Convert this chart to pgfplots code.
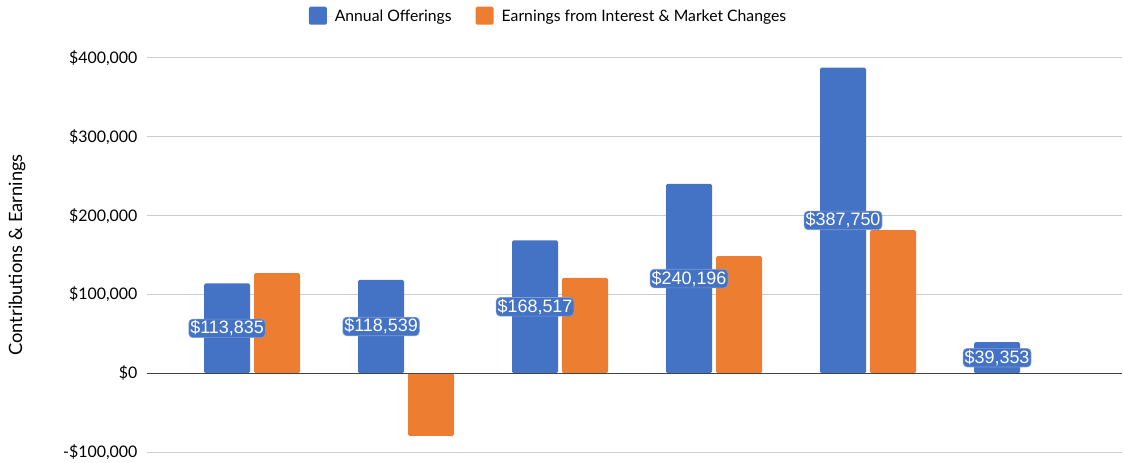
\documentclass[border=0pt]{standalone}
\usepackage{pgfplots}
\pgfplotsset{compat=1.18}
\usepackage{fontspec}
\setmainfont{Lato}
\newfontfamily\labfont{Liberation Sans}
\definecolor{barblue}{HTML}{4472C4}
\definecolor{barorange}{HTML}{ED7D31}
\definecolor{gridgray}{HTML}{CCCCCC}
\definecolor{zerogray}{HTML}{444444}
\pgfplotsset{sqlegend/.style={legend image code/.code={\fill[##1, rounded corners=1.5bp] (0bp,-8bp) rectangle (18bp,10bp);\path (0bp,0bp) -- (24bp,0bp);}}}
\begin{document}
\begin{tikzpicture}
\begin{axis}[
  at={(0,0)}, anchor=south west,
  scale only axis, width=975bp, height=394bp,
  xmin=-0.682, xmax=5.649, ymin=-100000, ymax=400000,
  axis line style={draw=none},
  xtick=\empty,
  scaled y ticks=false,
  ytick={-100000,0,100000,200000,300000,400000},
  yticklabels={{-\$100,000},{\$0},{\$100,000},{\$200,000},{\$300,000},{\$400,000}},
  major tick length=0pt,
  ymajorgrids, grid style={gridgray, line width=1bp},
  yticklabel style={font=\fontsize{16}{19}\selectfont, anchor=east, xshift=-6bp},
  ylabel={Contributions \& Earnings},
  every axis y label/.style={at={(axis description cs:-0.1333,0.5)}, rotate=90, anchor=center, font=\fontsize{18.4}{22}\selectfont},
  legend style={draw=none, fill=none, at={(axis description cs:0.4118,1.1066)}, anchor=center,
    font=\fontsize{15.8}{19}\selectfont, /tikz/every even column/.append style={column sep=22bp}},
  legend columns=2,
]
\addplot[ybar, bar width=46bp, bar shift=-25bp, fill=barblue, draw=none, rounded corners=1.5bp, sqlegend]
  coordinates {(0,113835)(1,118539)(2,168517)(3,240196)(4,387750)(5,39353)};
\addlegendentry{Annual Offerings}
\addplot[ybar, bar width=46bp, bar shift=25bp, fill=barorange, draw=none, rounded corners=1.5bp, sqlegend]
  coordinates {(0,127000)(1,-79500)(2,121000)(3,148600)(4,181600)};
\addlegendentry{Earnings from Interest \& Market Changes}
\draw[zerogray, line width=1.3bp] (axis cs:-0.682,0) -- (axis cs:5.649,0);
\addplot[draw=none, mark=none, forget plot, nodes near coords,
  point meta=explicit symbolic,
  nodes near coords style={anchor=center, font=\labfont\fontsize{18}{21}\selectfont, text=white,
    fill=barblue, draw=barblue!70!white, line width=0.6bp, rounded corners=4bp, inner xsep=1.5bp, inner ysep=1.5bp}]
  coordinates {(-0.1623,56917.5)[\$113,835] (0.8377,59269.5)[\$118,539] (1.8377,84258.5)[\$168,517]
    (2.8377,120098)[\$240,196] (3.8377,193875)[\$387,750] (4.8377,19676.5)[\$39,353]};
\end{axis}
\pgfresetboundingbox
\path (-147bp,-11bp) rectangle (977bp,452bp);
\end{tikzpicture}
\end{document}
